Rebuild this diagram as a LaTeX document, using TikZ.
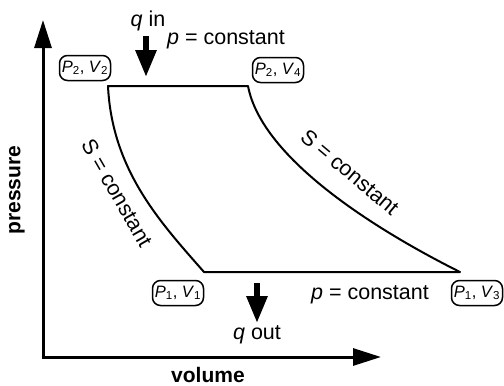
\documentclass[tikz,border=0pt]{standalone}
\usepackage{fontspec}
\setmainfont{Liberation Sans}
\usetikzlibrary{arrows.meta}
\tikzset{
  state-box/.style={draw,line width=1.5pt,rounded corners=8pt,
    minimum height=25pt,minimum width=51pt,inner sep=2pt,
    font=\fontsize{16.5}{18}\selectfont},
  cycle-line/.style={line width=2pt,line join=round},
  axis-arrow/.style={line width=3pt,-{Triangle[length=28pt,width=17pt]}},
  heat-arrow/.style={line width=6pt,-{Triangle[length=27pt,width=20pt]}},
  label-text/.style={font=\fontsize{21.5}{24}\selectfont,inner sep=0pt},
  axis-text/.style={font=\bfseries\fontsize{21}{24}\selectfont,inner sep=0pt},
}
\newcommand{\pv}[4]{\textit{#1}\textsubscript{#2}, \textit{#3}\textsubscript{#4}}

\begin{document}
\begin{tikzpicture}[x=1pt,y=-1pt]
  \useasboundingbox (0,0) rectangle (504,386);
  % axes
  \coordinate (origin) at (43,357);
  \coordinate (ptop) at (43,20);
  \coordinate (vend) at (381,357);
  \draw[axis-arrow] (origin) -- (ptop);
  \draw[axis-arrow] ([xshift=-1.5pt]origin) -- (vend);
  \node[axis-text,rotate=90] (pressure) at (17,190) {pressure};
  \node[axis-text] (volume) at (208,375) {volume};
  % corners of the cycle
  \coordinate (c1) at (204,272);
  \coordinate (c2) at (108,86);
  \coordinate (c3) at (460,272);
  \coordinate (c4) at (248,86);
  \draw[cycle-line] (c1) .. controls (160,222) and (112,170) .. (c2)
    -- (c4) .. controls (262,160) and (380,232) .. (c3) -- cycle;
  % states
  \node[state-box] (s2) at (85,68) {\pv{P}{2}{V}{2}};
  \node[state-box] (s4) at (278,70) {\pv{P}{2}{V}{4}};
  \node[state-box] (s1) at (178,293) {\pv{P}{1}{V}{1}};
  \node[state-box] (s3) at (477,293) {\pv{P}{1}{V}{3}};
  % heat in / out
  \coordinate (qinA) at (146,36);
  \coordinate (qinB) at (146,77);
  \coordinate (qoutA) at (257,283);
  \coordinate (qoutB) at (257,323);
  \draw[heat-arrow] (qinA) -- (qinB);
  \draw[heat-arrow] (qoutA) -- (qoutB);
  \node[label-text] (qin) at (148,21) {\textit{q} in};
  \node[label-text] (qout) at (257,335) {\textit{q} out};
  % process labels
  \node[label-text] (ptopl) at (226,40) {\textit{p} = constant};
  \node[label-text] (pbot) at (370,295) {\textit{p} = constant};
  \node[label-text,rotate=-60] (sleft) at (117,193) {S = constant};
  \node[label-text,rotate=-40] (sright) at (350,172) {S = constant};
\end{tikzpicture}
\end{document}
